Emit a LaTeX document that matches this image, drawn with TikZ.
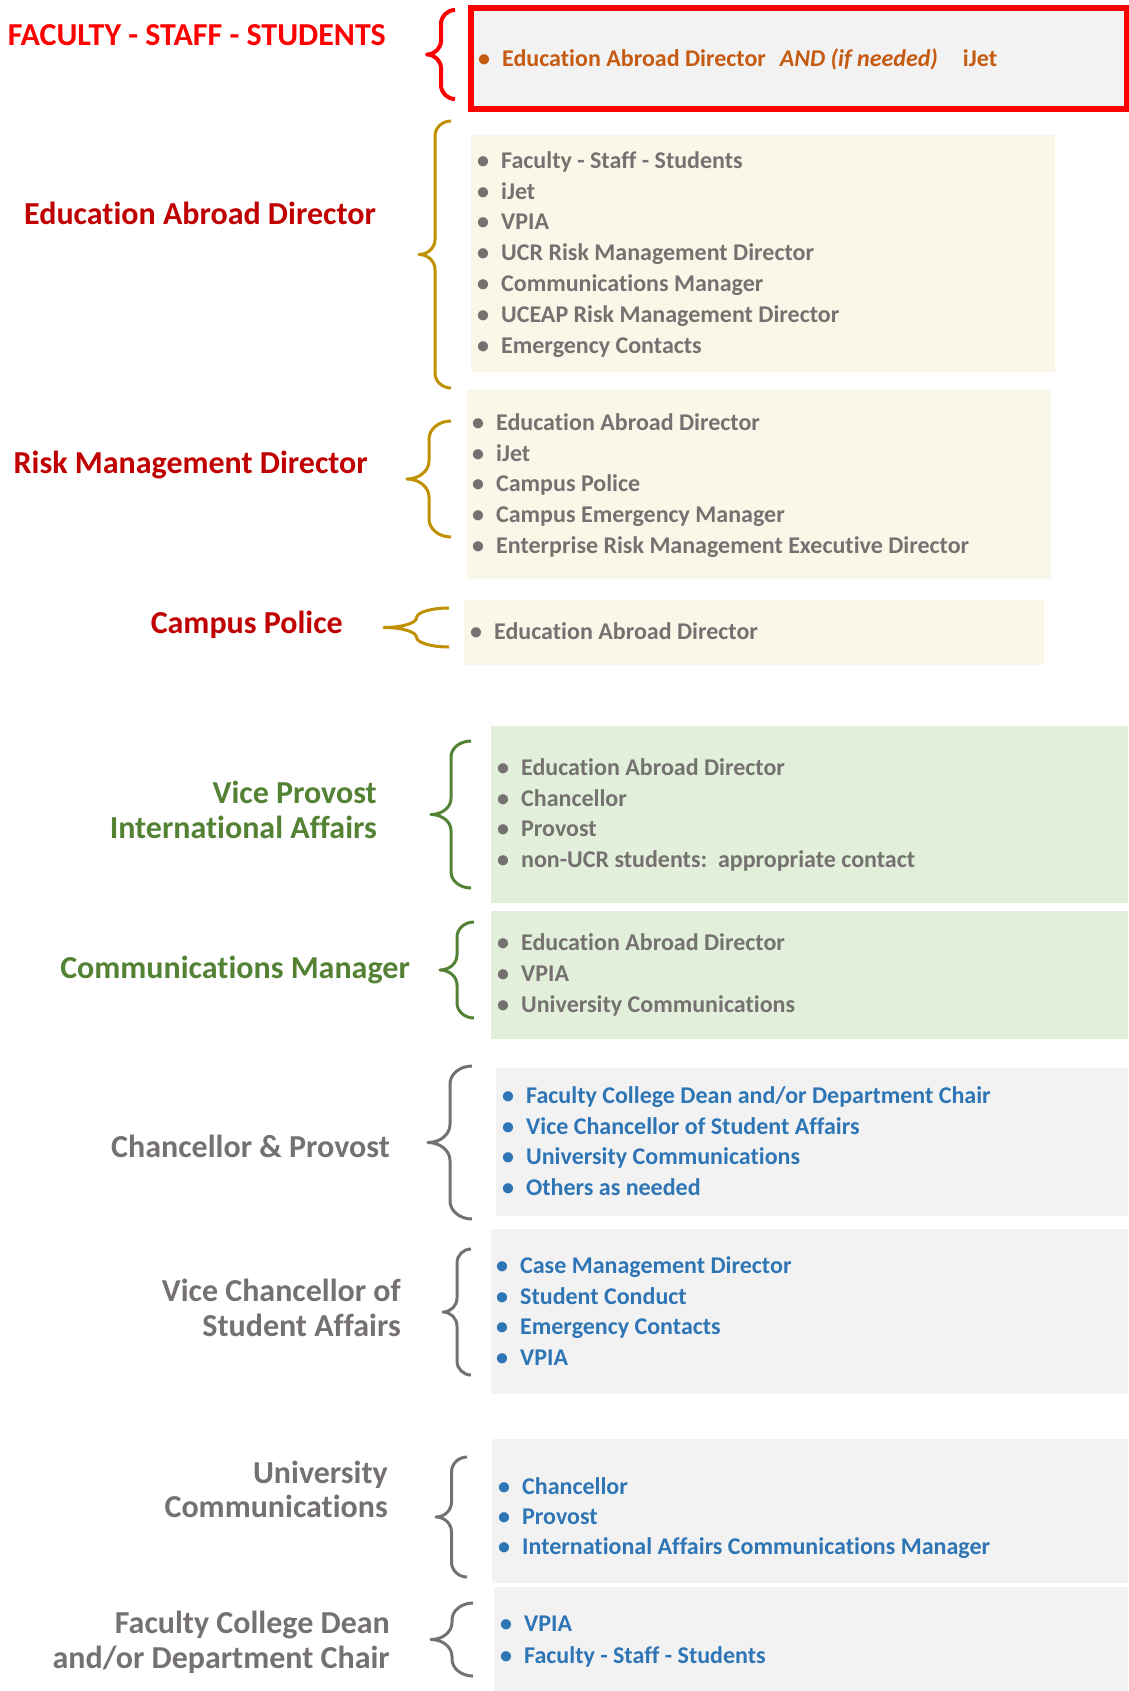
\documentclass[tikz,border=0pt]{standalone}
\usepackage{fontspec}
\setmainfont{Carlito}[Ligatures={NoCommon,NoRare,NoContextual}]
\usepackage{tikz}
\usepackage{xcolor}

\definecolor{alarmred}{HTML}{FF0000}
\definecolor{darkred}{HTML}{C00000}
\definecolor{rust}{HTML}{C55A11}
\definecolor{gold}{HTML}{BF9000}
\definecolor{cream}{HTML}{FAF7E9}
\definecolor{leafgreen}{HTML}{548235}
\definecolor{palegreen}{HTML}{E2EFDA}
\definecolor{slate}{HTML}{767171}
\definecolor{linkblue}{HTML}{2E75B6}
\definecolor{paper}{HTML}{F2F2F2}

% left curly brace: colour, x of the point, top, bottom, width, curl radius
\newcommand{\curlybrace}[6]{%
  \draw[line join=round, #1] ({#2+#5},#3) arc[start angle=-90,end angle=-180,x radius={#5/2},y radius=#6]
    -- ({#2+#5/2},{(#3+#4)/2-#6}) arc[start angle=0,end angle=90,x radius={#5/2},y radius=#6]
    arc[start angle=-90,end angle=0,x radius={#5/2},y radius=#6]
    -- ({#2+#5/2},{#4-#6}) arc[start angle=180,end angle=90,x radius={#5/2},y radius=#6];}
\newcommand{\itemdot}{\makebox[24pt][l]{•}}

\tikzset{
  role/.style={anchor=east, align=right, inner sep=0pt, font=\fontsize{32}{34.6}\selectfont\bfseries},
  entry/.style={anchor=west, inner sep=0pt, text height=15pt, text depth=0pt, font=\fontsize{24}{29}\selectfont\bfseries}
}

\begin{document}
\begin{tikzpicture}[x=1pt,y=-1pt]
    \useasboundingbox (0,0) rectangle (1128,1691);

    % panels
    \draw[alarmred, line width=6pt, fill=paper] (471,8) rectangle (1127,109);
    \fill[cream] (471,135) rectangle (1055,372);
    \fill[cream] (467,390) rectangle (1051,579);
    \fill[cream] (464,600) rectangle (1044,665);
    \fill[palegreen] (491,726) rectangle (1128,903);
    \fill[palegreen] (491,911) rectangle (1128,1039);
    \fill[paper] (496,1068) rectangle (1128,1216);
    \fill[paper] (491,1229) rectangle (1128,1394);
    \fill[paper] (492,1439) rectangle (1128,1583);
    \fill[paper] (494,1587) rectangle (1128,1691);

    % braces
    \curlybrace{alarmred, line width=4pt}{427}{10}{99}{28}{14}
    \curlybrace{gold, line width=3pt}{419}{121}{388}{32}{15}
    \curlybrace{gold, line width=3pt}{407}{421}{537}{44}{18}
    \curlybrace{gold, line width=3pt}{384}{608}{647}{65}{9.75}
    \curlybrace{leafgreen, line width=3pt}{431}{741}{888}{40}{16}
    \curlybrace{leafgreen, line width=3pt}{440}{922}{1018}{34}{15}
    \curlybrace{slate, line width=3pt}{428}{1066}{1219}{44}{18}
    \curlybrace{slate, line width=3pt}{443}{1249}{1375}{28}{14}
    \curlybrace{slate, line width=3pt}{436}{1457}{1577}{31}{15}
    \curlybrace{slate, line width=3pt}{431}{1603}{1676}{42}{17}

    % who calls
    \node[role, text=alarmred] (fss) at (386,35) {FACULTY - STAFF - STUDENTS};
    \node[role, text=darkred] (ead) at (376,213) {Education Abroad Director};
    \node[role, text=darkred] (rmd) at (368,465) {Risk Management Director};
    \node[role, text=darkred] (cp) at (343,625) {Campus Police};
    \node[role, text=leafgreen] (vpia) at (377,810) {Vice Provost\\International Affairs};
    \node[role, text=leafgreen] (cm) at (410,970) {Communications Manager};
    \node[role, text=slate] (chp) at (390,1146) {Chancellor \& Provost};
    \node[role, text=slate] (vcsa) at (401,1308) {Vice Chancellor of\\Student Affairs};
    \node[role, text=slate] (uc) at (388,1489.5) {University\\Communications};
    \node[role, text=slate] (fcd) at (390,1642) {Faculty College Dean\\and/or Department Chair};

    % whom they call
    \node[entry, text=rust] (fss-0) at (478,59.3)
        {\itemdot Education Abroad Director\hspace{14pt}\textit{AND (if needed)}\hspace{25pt}iJet};
    \foreach \t [count=\i from 0] in {Faculty - Staff - Students, iJet, VPIA, UCR Risk Management Director, Communications Manager, UCEAP Risk Management Director, Emergency Contacts}
        \node[entry, text=slate] (ead-\i) at (477,{160.7+30.8*\i}) {\itemdot\t};
    \foreach \t [count=\i from 0] in {Education Abroad Director, iJet, Campus Police, Campus Emergency Manager, Enterprise Risk Management Executive Director}
        \node[entry, text=slate] (rmd-\i) at (472,{422.7+30.8*\i}) {\itemdot\t};
    \node[entry, text=slate] (cp-0) at (470,631.7) {\itemdot Education Abroad Director};
    \foreach \t [count=\i from 0] in {Education Abroad Director, Chancellor, Provost, non-UCR students:\ \ appropriate contact}
        \node[entry, text=slate] (vpia-\i) at (497,{767.7+30.8*\i}) {\itemdot\t};
    \foreach \t [count=\i from 0] in {Education Abroad Director, VPIA, University Communications}
        \node[entry, text=slate] (cm-\i) at (497,{943.3+31*\i}) {\itemdot\t};
    \foreach \t [count=\i from 0] in {Faculty College Dean and/or Department Chair, Vice Chancellor of Student Affairs, University Communications, Others as needed}
        \node[entry, text=linkblue] (chp-\i) at (502,{1095.7+30.8*\i}) {\itemdot\t};
    \foreach \t [count=\i from 0] in {Case Management Director, Student Conduct, Emergency Contacts, VPIA}
        \node[entry, text=linkblue] (vcsa-\i) at (496,{1266+30.5*\i}) {\itemdot\t};
    \foreach \t [count=\i from 0] in {Chancellor, Provost, International Affairs Communications Manager}
        \node[entry, text=linkblue] (uc-\i) at (498,{1486.7+30.3*\i}) {\itemdot\t};
    \foreach \t [count=\i from 0] in {VPIA, Faculty - Staff - Students}
        \node[entry, text=linkblue] (fcd-\i) at (500,{1624+31.7*\i}) {\itemdot\t};
\end{tikzpicture}
\end{document}
